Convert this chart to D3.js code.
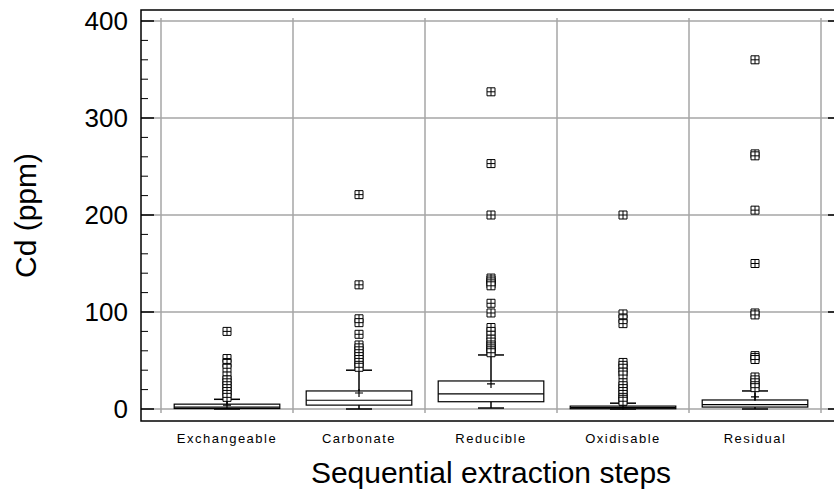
<!DOCTYPE html>
<html>
<head>
<meta charset="utf-8">
<script src="https://cdn.jsdelivr.net/npm/d3@7"></script>
<style>
  html, body { margin: 0; padding: 0; background: #fff; }
  svg { display: block; font-family: "Liberation Sans", Arial, sans-serif; }
</style>
</head>
<body>
<svg id="chart" width="834" height="490"></svg>
<script>
// Extraction steps on the x axis
const categories = ["Exchangeable", "Carbonate", "Reducible", "Oxidisable", "Residual"];

// Box statistics per step (Cd, ppm)
const whiskerLow  = [0,   0,  1,   0,   0];
const q1          = [0.5, 4,  7.5, 0.3, 2];
const median      = [2,   9,  15.5, 1.5, 4.5];
const q3          = [5,   18.6, 28.9, 3, 9.3];
const whiskerHigh = [10,  40, 55.7, 6,  18.6];
const mean        = [4,   16.5, 25.8, 3.5, 12.5];

// Outlying samples per step
const outliers = [
  [80, 52, 47, 42, 34, 30, 27, 24, 21, 18, 15, 12],
  [221, 128, 93, 89, 77, 66, 63, 60, 57, 54, 51, 48, 45, 43],
  [327, 253, 200, 135, 133, 131, 129, 127, 109, 99, 84, 80, 76, 72, 69, 66, 64, 62, 60, 58],
  [200, 98, 93, 88, 48, 45, 42, 38, 35, 27, 24, 21, 18, 15, 12, 10, 8],
  [360, 263, 261, 205, 150, 99, 97, 55, 53, 51, 33, 30, 27, 24, 22]
];

// Axis ticks
const yMajorTicks = [0, 100, 200, 300, 400];
const yMinorTicks = d3.range(0, 401, 20).filter(v => v % 100 !== 0);

const svg = d3.select("#chart");

const frame = { left: 141, right: 841, top: 10, bottom: 421 };

const y = d3.scaleLinear().domain([0, 400]).range([409, 21]);
const x = d3.scaleBand().domain(categories).range([161, 821]).padding(0);

const gridColor = "#a6a6a6";

// Horizontal grid
svg.append("g").selectAll("line").data(yMajorTicks).join("line")
  .attr("x1", frame.left).attr("x2", frame.right)
  .attr("y1", d => y(d)).attr("y2", d => y(d))
  .attr("stroke", gridColor).attr("stroke-width", 1.5);

// Vertical grid at category boundaries
const bounds = categories.map(c => x(c)).concat([x.range()[1]]);
svg.append("g").selectAll("line").data(bounds).join("line")
  .attr("x1", d => d).attr("x2", d => d)
  .attr("y1", y(403)).attr("y2", y(-4))
  .attr("stroke", gridColor).attr("stroke-width", 1.5);

// Frame
svg.append("rect")
  .attr("x", frame.left).attr("y", frame.top)
  .attr("width", frame.right - frame.left).attr("height", frame.bottom - frame.top)
  .attr("fill", "none").attr("stroke", "#000").attr("stroke-width", 1.5);

// Inward ticks on left and right axes
const ticks = svg.append("g").attr("stroke", "#000");
yMajorTicks.forEach(v => {
  ticks.append("line").attr("x1", frame.left).attr("x2", frame.left + 13)
    .attr("y1", y(v)).attr("y2", y(v)).attr("stroke-width", 1.5);
  ticks.append("line").attr("x1", frame.right).attr("x2", frame.right - 13)
    .attr("y1", y(v)).attr("y2", y(v)).attr("stroke-width", 1.5);
});
yMinorTicks.forEach(v => {
  ticks.append("line").attr("x1", frame.left).attr("x2", frame.left + 7)
    .attr("y1", y(v)).attr("y2", y(v)).attr("stroke-width", 1);
  ticks.append("line").attr("x1", frame.right).attr("x2", frame.right - 7)
    .attr("y1", y(v)).attr("y2", y(v)).attr("stroke-width", 1);
});

// Y tick labels
svg.append("g").selectAll("text").data(yMajorTicks).join("text")
  .attr("x", 128).attr("y", d => y(d)).attr("dy", "0.36em")
  .attr("text-anchor", "end").attr("font-size", 26).attr("fill", "#000")
  .text(d => d);

// Category labels
svg.append("g").selectAll("text").data(categories).join("text")
  .attr("x", d => x(d) + x.bandwidth() / 2).attr("y", 443)
  .attr("text-anchor", "middle").attr("font-size", 13)
  .attr("letter-spacing", 1.5).attr("fill", "#000")
  .text(d => d);

// Axis titles
svg.append("text")
  .attr("x", (frame.left + frame.right) / 2).attr("y", 483)
  .attr("text-anchor", "middle").attr("font-size", 30).attr("fill", "#000")
  .text("Sequential extraction steps");

svg.append("text")
  .attr("transform", `translate(36,${(frame.top + frame.bottom) / 2}) rotate(-90)`)
  .attr("text-anchor", "middle").attr("font-size", 30).attr("fill", "#000")
  .text("Cd (ppm)");

// Box plots
const boxW = x.bandwidth() * 0.8;
const capW = 26;
const m = 8; // marker size

categories.forEach((c, i) => {
  const cx = x(c) + x.bandwidth() / 2;
  const g = svg.append("g").attr("stroke", "#000").attr("fill", "none");

  // whiskers
  g.append("line").attr("x1", cx).attr("x2", cx)
    .attr("y1", y(q3[i])).attr("y2", y(whiskerHigh[i])).attr("stroke-width", 1.5);
  g.append("line").attr("x1", cx).attr("x2", cx)
    .attr("y1", y(q1[i])).attr("y2", y(whiskerLow[i])).attr("stroke-width", 1.5);
  g.append("line").attr("x1", cx - capW / 2).attr("x2", cx + capW / 2)
    .attr("y1", y(whiskerHigh[i])).attr("y2", y(whiskerHigh[i])).attr("stroke-width", 1.5);
  g.append("line").attr("x1", cx - capW / 2).attr("x2", cx + capW / 2)
    .attr("y1", y(whiskerLow[i])).attr("y2", y(whiskerLow[i])).attr("stroke-width", 1.5);

  // box
  g.append("rect")
    .attr("x", cx - boxW / 2).attr("y", y(q3[i]))
    .attr("width", boxW).attr("height", y(q1[i]) - y(q3[i]))
    .attr("fill", "#fff").attr("stroke-width", 1.2);
  g.append("line").attr("x1", cx - boxW / 2).attr("x2", cx + boxW / 2)
    .attr("y1", y(median[i])).attr("y2", y(median[i])).attr("stroke-width", 1.2);

  // mean marker
  const my = y(mean[i]);
  g.append("path")
    .attr("d", `M${cx - 4},${my}H${cx + 4}M${cx},${my - 4}V${my + 4}`)
    .attr("stroke-width", 1.2);

  // outliers: square with cross
  g.selectAll("path.out").data(outliers[i]).join("path")
    .attr("class", "out")
    .attr("d", d => {
      const oy = y(d);
      return `M${cx - m / 2},${oy - m / 2}h${m}v${m}h${-m}Z` +
             `M${cx - m / 2},${oy}h${m}M${cx},${oy - m / 2}v${m}`;
    })
    .attr("fill", "#fff").attr("stroke-width", 1);
});
</script>
</body>
</html>
